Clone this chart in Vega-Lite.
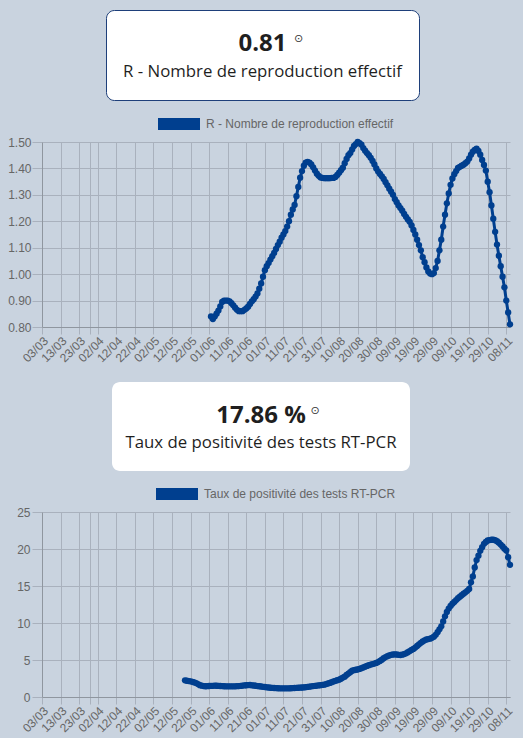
{
  "$schema": "https://vega.github.io/schema/vega-lite/v6.json",
  "background": "#c9d3df",
  "padding": {"left": 7, "top": 9, "right": 7, "bottom": 3},
  "spacing": 17,
  "config": {
    "font": "Liberation Sans",
    "view": {"stroke": null},
    "axis": {
      "labelFont": "Liberation Sans",
      "labelFontSize": 12,
      "labelColor": "#666666",
      "gridColor": "#a9b1bd",
      "tickColor": "#a9b1bd",
      "domainColor": "#8f969f"
    },
    "legend": {"layout": {"top": {"anchor": "middle"}}}
  },
  "resolve": {"scale": {"color": "independent"}, "legend": {"color": "independent"}},
  "datasets": {
    "r": [
      {"date": "2020-06-02", "valeur": 0.84}, {"date": "2020-06-03", "valeur": 0.83}, {"date": "2020-06-04", "valeur": 0.84},
      {"date": "2020-06-05", "valeur": 0.85}, {"date": "2020-06-06", "valeur": 0.862}, {"date": "2020-06-07", "valeur": 0.878},
      {"date": "2020-06-08", "valeur": 0.895}, {"date": "2020-06-09", "valeur": 0.9}, {"date": "2020-06-10", "valeur": 0.9},
      {"date": "2020-06-11", "valeur": 0.9}, {"date": "2020-06-12", "valeur": 0.897}, {"date": "2020-06-13", "valeur": 0.89},
      {"date": "2020-06-14", "valeur": 0.882}, {"date": "2020-06-15", "valeur": 0.873}, {"date": "2020-06-16", "valeur": 0.865},
      {"date": "2020-06-17", "valeur": 0.86}, {"date": "2020-06-18", "valeur": 0.86}, {"date": "2020-06-19", "valeur": 0.86},
      {"date": "2020-06-20", "valeur": 0.865}, {"date": "2020-06-21", "valeur": 0.87}, {"date": "2020-06-22", "valeur": 0.877},
      {"date": "2020-06-23", "valeur": 0.887}, {"date": "2020-06-24", "valeur": 0.897}, {"date": "2020-06-25", "valeur": 0.905},
      {"date": "2020-06-26", "valeur": 0.915}, {"date": "2020-06-27", "valeur": 0.927}, {"date": "2020-06-28", "valeur": 0.945},
      {"date": "2020-06-29", "valeur": 0.965}, {"date": "2020-06-30", "valeur": 0.99}, {"date": "2020-07-01", "valeur": 1.015},
      {"date": "2020-07-02", "valeur": 1.03}, {"date": "2020-07-03", "valeur": 1.042}, {"date": "2020-07-04", "valeur": 1.055},
      {"date": "2020-07-05", "valeur": 1.068}, {"date": "2020-07-06", "valeur": 1.08}, {"date": "2020-07-07", "valeur": 1.095},
      {"date": "2020-07-08", "valeur": 1.11}, {"date": "2020-07-09", "valeur": 1.123}, {"date": "2020-07-10", "valeur": 1.138},
      {"date": "2020-07-11", "valeur": 1.15}, {"date": "2020-07-12", "valeur": 1.163}, {"date": "2020-07-13", "valeur": 1.18},
      {"date": "2020-07-14", "valeur": 1.2}, {"date": "2020-07-15", "valeur": 1.225}, {"date": "2020-07-16", "valeur": 1.245},
      {"date": "2020-07-17", "valeur": 1.262}, {"date": "2020-07-18", "valeur": 1.295}, {"date": "2020-07-19", "valeur": 1.33},
      {"date": "2020-07-20", "valeur": 1.365}, {"date": "2020-07-21", "valeur": 1.39}, {"date": "2020-07-22", "valeur": 1.41},
      {"date": "2020-07-23", "valeur": 1.422}, {"date": "2020-07-24", "valeur": 1.425}, {"date": "2020-07-25", "valeur": 1.422},
      {"date": "2020-07-26", "valeur": 1.415}, {"date": "2020-07-27", "valeur": 1.404}, {"date": "2020-07-28", "valeur": 1.392},
      {"date": "2020-07-29", "valeur": 1.38}, {"date": "2020-07-30", "valeur": 1.372}, {"date": "2020-07-31", "valeur": 1.366},
      {"date": "2020-08-01", "valeur": 1.364}, {"date": "2020-08-02", "valeur": 1.363}, {"date": "2020-08-03", "valeur": 1.363},
      {"date": "2020-08-04", "valeur": 1.363}, {"date": "2020-08-05", "valeur": 1.363}, {"date": "2020-08-06", "valeur": 1.364},
      {"date": "2020-08-07", "valeur": 1.364}, {"date": "2020-08-08", "valeur": 1.368}, {"date": "2020-08-09", "valeur": 1.375},
      {"date": "2020-08-10", "valeur": 1.384}, {"date": "2020-08-11", "valeur": 1.393}, {"date": "2020-08-12", "valeur": 1.403},
      {"date": "2020-08-13", "valeur": 1.42}, {"date": "2020-08-14", "valeur": 1.436}, {"date": "2020-08-15", "valeur": 1.45},
      {"date": "2020-08-16", "valeur": 1.458}, {"date": "2020-08-17", "valeur": 1.472}, {"date": "2020-08-18", "valeur": 1.485},
      {"date": "2020-08-19", "valeur": 1.492}, {"date": "2020-08-20", "valeur": 1.5}, {"date": "2020-08-21", "valeur": 1.496},
      {"date": "2020-08-22", "valeur": 1.49}, {"date": "2020-08-23", "valeur": 1.477}, {"date": "2020-08-24", "valeur": 1.467},
      {"date": "2020-08-25", "valeur": 1.458}, {"date": "2020-08-26", "valeur": 1.45}, {"date": "2020-08-27", "valeur": 1.44},
      {"date": "2020-08-28", "valeur": 1.428}, {"date": "2020-08-29", "valeur": 1.415}, {"date": "2020-08-30", "valeur": 1.4},
      {"date": "2020-08-31", "valeur": 1.388}, {"date": "2020-09-01", "valeur": 1.379}, {"date": "2020-09-02", "valeur": 1.37},
      {"date": "2020-09-03", "valeur": 1.36}, {"date": "2020-09-04", "valeur": 1.348}, {"date": "2020-09-05", "valeur": 1.336},
      {"date": "2020-09-06", "valeur": 1.323}, {"date": "2020-09-07", "valeur": 1.312}, {"date": "2020-09-08", "valeur": 1.3},
      {"date": "2020-09-09", "valeur": 1.284}, {"date": "2020-09-10", "valeur": 1.272}, {"date": "2020-09-11", "valeur": 1.26},
      {"date": "2020-09-12", "valeur": 1.25}, {"date": "2020-09-13", "valeur": 1.24}, {"date": "2020-09-14", "valeur": 1.228},
      {"date": "2020-09-15", "valeur": 1.217}, {"date": "2020-09-16", "valeur": 1.207}, {"date": "2020-09-17", "valeur": 1.198},
      {"date": "2020-09-18", "valeur": 1.184}, {"date": "2020-09-19", "valeur": 1.167}, {"date": "2020-09-20", "valeur": 1.15},
      {"date": "2020-09-21", "valeur": 1.13}, {"date": "2020-09-22", "valeur": 1.11}, {"date": "2020-09-23", "valeur": 1.09},
      {"date": "2020-09-24", "valeur": 1.064}, {"date": "2020-09-25", "valeur": 1.045}, {"date": "2020-09-26", "valeur": 1.025},
      {"date": "2020-09-27", "valeur": 1.01}, {"date": "2020-09-28", "valeur": 1.002}, {"date": "2020-09-29", "valeur": 1.0},
      {"date": "2020-09-30", "valeur": 1.004}, {"date": "2020-10-01", "valeur": 1.023}, {"date": "2020-10-02", "valeur": 1.05},
      {"date": "2020-10-03", "valeur": 1.09}, {"date": "2020-10-04", "valeur": 1.13}, {"date": "2020-10-05", "valeur": 1.18},
      {"date": "2020-10-06", "valeur": 1.225}, {"date": "2020-10-07", "valeur": 1.268}, {"date": "2020-10-08", "valeur": 1.305},
      {"date": "2020-10-09", "valeur": 1.338}, {"date": "2020-10-10", "valeur": 1.362}, {"date": "2020-10-11", "valeur": 1.378},
      {"date": "2020-10-12", "valeur": 1.39}, {"date": "2020-10-13", "valeur": 1.402}, {"date": "2020-10-14", "valeur": 1.406},
      {"date": "2020-10-15", "valeur": 1.41}, {"date": "2020-10-16", "valeur": 1.414}, {"date": "2020-10-17", "valeur": 1.42},
      {"date": "2020-10-18", "valeur": 1.426}, {"date": "2020-10-19", "valeur": 1.438}, {"date": "2020-10-20", "valeur": 1.452},
      {"date": "2020-10-21", "valeur": 1.463}, {"date": "2020-10-22", "valeur": 1.47}, {"date": "2020-10-23", "valeur": 1.475},
      {"date": "2020-10-24", "valeur": 1.466}, {"date": "2020-10-25", "valeur": 1.452}, {"date": "2020-10-26", "valeur": 1.432},
      {"date": "2020-10-27", "valeur": 1.413}, {"date": "2020-10-28", "valeur": 1.392}, {"date": "2020-10-29", "valeur": 1.35},
      {"date": "2020-10-30", "valeur": 1.31}, {"date": "2020-10-31", "valeur": 1.26}, {"date": "2020-11-01", "valeur": 1.21},
      {"date": "2020-11-02", "valeur": 1.16}, {"date": "2020-11-03", "valeur": 1.112}, {"date": "2020-11-04", "valeur": 1.07},
      {"date": "2020-11-05", "valeur": 1.03}, {"date": "2020-11-06", "valeur": 0.99}, {"date": "2020-11-07", "valeur": 0.95},
      {"date": "2020-11-08", "valeur": 0.9}, {"date": "2020-11-09", "valeur": 0.855}, {"date": "2020-11-10", "valeur": 0.81}
    ],
    "tp": [
      {"date": "2020-05-19", "valeur": 2.25}, {"date": "2020-05-20", "valeur": 2.2}, {"date": "2020-05-21", "valeur": 2.15},
      {"date": "2020-05-22", "valeur": 2.12}, {"date": "2020-05-23", "valeur": 2.05}, {"date": "2020-05-24", "valeur": 1.97},
      {"date": "2020-05-25", "valeur": 1.88}, {"date": "2020-05-26", "valeur": 1.74}, {"date": "2020-05-27", "valeur": 1.6},
      {"date": "2020-05-28", "valeur": 1.53}, {"date": "2020-05-29", "valeur": 1.48}, {"date": "2020-05-30", "valeur": 1.45},
      {"date": "2020-05-31", "valeur": 1.46}, {"date": "2020-06-01", "valeur": 1.49}, {"date": "2020-06-02", "valeur": 1.5},
      {"date": "2020-06-03", "valeur": 1.51}, {"date": "2020-06-04", "valeur": 1.53}, {"date": "2020-06-05", "valeur": 1.52},
      {"date": "2020-06-06", "valeur": 1.5}, {"date": "2020-06-07", "valeur": 1.49}, {"date": "2020-06-08", "valeur": 1.47},
      {"date": "2020-06-09", "valeur": 1.45}, {"date": "2020-06-10", "valeur": 1.44}, {"date": "2020-06-11", "valeur": 1.44},
      {"date": "2020-06-12", "valeur": 1.44}, {"date": "2020-06-13", "valeur": 1.44}, {"date": "2020-06-14", "valeur": 1.44},
      {"date": "2020-06-15", "valeur": 1.44}, {"date": "2020-06-16", "valeur": 1.46}, {"date": "2020-06-17", "valeur": 1.48},
      {"date": "2020-06-18", "valeur": 1.5}, {"date": "2020-06-19", "valeur": 1.54}, {"date": "2020-06-20", "valeur": 1.57},
      {"date": "2020-06-21", "valeur": 1.59}, {"date": "2020-06-22", "valeur": 1.61}, {"date": "2020-06-23", "valeur": 1.62},
      {"date": "2020-06-24", "valeur": 1.58}, {"date": "2020-06-25", "valeur": 1.55}, {"date": "2020-06-26", "valeur": 1.52},
      {"date": "2020-06-27", "valeur": 1.48}, {"date": "2020-06-28", "valeur": 1.45}, {"date": "2020-06-29", "valeur": 1.42},
      {"date": "2020-06-30", "valeur": 1.38}, {"date": "2020-07-01", "valeur": 1.35}, {"date": "2020-07-02", "valeur": 1.31},
      {"date": "2020-07-03", "valeur": 1.28}, {"date": "2020-07-04", "valeur": 1.25}, {"date": "2020-07-05", "valeur": 1.23},
      {"date": "2020-07-06", "valeur": 1.22}, {"date": "2020-07-07", "valeur": 1.2}, {"date": "2020-07-08", "valeur": 1.18},
      {"date": "2020-07-09", "valeur": 1.17}, {"date": "2020-07-10", "valeur": 1.17}, {"date": "2020-07-11", "valeur": 1.17},
      {"date": "2020-07-12", "valeur": 1.17}, {"date": "2020-07-13", "valeur": 1.17}, {"date": "2020-07-14", "valeur": 1.17},
      {"date": "2020-07-15", "valeur": 1.18}, {"date": "2020-07-16", "valeur": 1.2}, {"date": "2020-07-17", "valeur": 1.22},
      {"date": "2020-07-18", "valeur": 1.24}, {"date": "2020-07-19", "valeur": 1.25}, {"date": "2020-07-20", "valeur": 1.26},
      {"date": "2020-07-21", "valeur": 1.28}, {"date": "2020-07-22", "valeur": 1.3}, {"date": "2020-07-23", "valeur": 1.33},
      {"date": "2020-07-24", "valeur": 1.36}, {"date": "2020-07-25", "valeur": 1.4}, {"date": "2020-07-26", "valeur": 1.44},
      {"date": "2020-07-27", "valeur": 1.47}, {"date": "2020-07-28", "valeur": 1.5}, {"date": "2020-07-29", "valeur": 1.54},
      {"date": "2020-07-30", "valeur": 1.57}, {"date": "2020-07-31", "valeur": 1.6}, {"date": "2020-08-01", "valeur": 1.63},
      {"date": "2020-08-02", "valeur": 1.67}, {"date": "2020-08-03", "valeur": 1.75}, {"date": "2020-08-04", "valeur": 1.82},
      {"date": "2020-08-05", "valeur": 1.9}, {"date": "2020-08-06", "valeur": 2.0}, {"date": "2020-08-07", "valeur": 2.1},
      {"date": "2020-08-08", "valeur": 2.18}, {"date": "2020-08-09", "valeur": 2.26}, {"date": "2020-08-10", "valeur": 2.34},
      {"date": "2020-08-11", "valeur": 2.47}, {"date": "2020-08-12", "valeur": 2.62}, {"date": "2020-08-13", "valeur": 2.75},
      {"date": "2020-08-14", "valeur": 2.97}, {"date": "2020-08-15", "valeur": 3.17}, {"date": "2020-08-16", "valeur": 3.35},
      {"date": "2020-08-17", "valeur": 3.55}, {"date": "2020-08-18", "valeur": 3.63}, {"date": "2020-08-19", "valeur": 3.68},
      {"date": "2020-08-20", "valeur": 3.72}, {"date": "2020-08-21", "valeur": 3.8}, {"date": "2020-08-22", "valeur": 3.9},
      {"date": "2020-08-23", "valeur": 4.0}, {"date": "2020-08-24", "valeur": 4.1}, {"date": "2020-08-25", "valeur": 4.2},
      {"date": "2020-08-26", "valeur": 4.3}, {"date": "2020-08-27", "valeur": 4.38}, {"date": "2020-08-28", "valeur": 4.45},
      {"date": "2020-08-29", "valeur": 4.52}, {"date": "2020-08-30", "valeur": 4.6}, {"date": "2020-08-31", "valeur": 4.72},
      {"date": "2020-09-01", "valeur": 4.88}, {"date": "2020-09-02", "valeur": 5.05}, {"date": "2020-09-03", "valeur": 5.25},
      {"date": "2020-09-04", "valeur": 5.4}, {"date": "2020-09-05", "valeur": 5.52}, {"date": "2020-09-06", "valeur": 5.62},
      {"date": "2020-09-07", "valeur": 5.7}, {"date": "2020-09-08", "valeur": 5.74}, {"date": "2020-09-09", "valeur": 5.76},
      {"date": "2020-09-10", "valeur": 5.74}, {"date": "2020-09-11", "valeur": 5.7}, {"date": "2020-09-12", "valeur": 5.68},
      {"date": "2020-09-13", "valeur": 5.72}, {"date": "2020-09-14", "valeur": 5.8}, {"date": "2020-09-15", "valeur": 5.9},
      {"date": "2020-09-16", "valeur": 6.05}, {"date": "2020-09-17", "valeur": 6.2}, {"date": "2020-09-18", "valeur": 6.35},
      {"date": "2020-09-19", "valeur": 6.5}, {"date": "2020-09-20", "valeur": 6.68}, {"date": "2020-09-21", "valeur": 6.9},
      {"date": "2020-09-22", "valeur": 7.12}, {"date": "2020-09-23", "valeur": 7.32}, {"date": "2020-09-24", "valeur": 7.5},
      {"date": "2020-09-25", "valeur": 7.66}, {"date": "2020-09-26", "valeur": 7.77}, {"date": "2020-09-27", "valeur": 7.83},
      {"date": "2020-09-28", "valeur": 7.88}, {"date": "2020-09-29", "valeur": 8.0}, {"date": "2020-09-30", "valeur": 8.15},
      {"date": "2020-10-01", "valeur": 8.4}, {"date": "2020-10-02", "valeur": 8.75}, {"date": "2020-10-03", "valeur": 9.15},
      {"date": "2020-10-04", "valeur": 9.55}, {"date": "2020-10-05", "valeur": 10.2}, {"date": "2020-10-06", "valeur": 10.9},
      {"date": "2020-10-07", "valeur": 11.5}, {"date": "2020-10-08", "valeur": 11.95}, {"date": "2020-10-09", "valeur": 12.3},
      {"date": "2020-10-10", "valeur": 12.6}, {"date": "2020-10-11", "valeur": 12.85}, {"date": "2020-10-12", "valeur": 13.1},
      {"date": "2020-10-13", "valeur": 13.35}, {"date": "2020-10-14", "valeur": 13.55}, {"date": "2020-10-15", "valeur": 13.75},
      {"date": "2020-10-16", "valeur": 13.95}, {"date": "2020-10-17", "valeur": 14.15}, {"date": "2020-10-18", "valeur": 14.35},
      {"date": "2020-10-19", "valeur": 14.6}, {"date": "2020-10-20", "valeur": 15.5}, {"date": "2020-10-21", "valeur": 16.3},
      {"date": "2020-10-22", "valeur": 17.5}, {"date": "2020-10-23", "valeur": 18.5}, {"date": "2020-10-24", "valeur": 19.1},
      {"date": "2020-10-25", "valeur": 19.75}, {"date": "2020-10-26", "valeur": 20.25}, {"date": "2020-10-27", "valeur": 20.7},
      {"date": "2020-10-28", "valeur": 20.95}, {"date": "2020-10-29", "valeur": 21.15}, {"date": "2020-10-30", "valeur": 21.2},
      {"date": "2020-10-31", "valeur": 21.25}, {"date": "2020-11-01", "valeur": 21.25}, {"date": "2020-11-02", "valeur": 21.18},
      {"date": "2020-11-03", "valeur": 21.05}, {"date": "2020-11-04", "valeur": 20.85}, {"date": "2020-11-05", "valeur": 20.6},
      {"date": "2020-11-06", "valeur": 20.35}, {"date": "2020-11-07", "valeur": 20.05}, {"date": "2020-11-08", "valeur": 19.8},
      {"date": "2020-11-09", "valeur": 18.9}, {"date": "2020-11-10", "valeur": 17.86}
    ]
  },
  "vconcat": [
    {
      "spacing": 2,
      "resolve": {"scale": {"color": "independent"}, "legend": {"color": "independent"}},
      "vconcat": [
        {
          "spacing": 0,
          "hconcat": [
            {
              "width": 63,
              "height": 90,
              "data": {"values": [{"vide": ""}]},
              "mark": {"type": "text"},
              "encoding": {"text": {"field": "vide"}}
            },
            {
              "width": 313,
              "height": 90,
              "view": {"fill": "white", "stroke": "#1e3f7a", "strokeWidth": 1, "cornerRadius": 8},
              "data": {"values": [
                {"ligne": "valeur", "texte": "0.81"},
                {"ligne": "titre", "texte": "R - Nombre de reproduction effectif"}
              ]},
              "encoding": {
                "y": {"field": "ligne", "type": "nominal", "axis": null,
                      "scale": {"type": "band", "domain": ["valeur", "titre"], "paddingInner": 0.5, "paddingOuter": 0.857, "align": 0.5625}},
                "text": {"field": "texte"}
              },
              "layer": [
                {"transform": [{"filter": "datum.ligne == 'valeur'"}],
                 "mark": {"type": "text", "font": "Open Sans", "fontSize": 24, "fontWeight": "bold", "color": "#1f1f1f"}},
                {"transform": [{"filter": "datum.ligne == 'titre'"}],
                 "mark": {"type": "text", "font": "Open Sans", "fontSize": 16.8, "color": "#1f1f1f"}},
                {"transform": [{"filter": "datum.ligne == 'valeur'"}],
                 "mark": {"type": "text", "font": "DejaVu Sans", "fontSize": 11, "color": "#333333", "dx": 36, "dy": -5},
                 "encoding": {"text": {"value": "⊙"}}}
              ]
            }
          ]
        },
        {
          "width": 468,
          "height": 185,
          "layer": [
            {
              "data": {"values": [{"seuil": 1.5}]},
              "mark": {"type": "rule", "color": "#e0294f", "strokeWidth": 1.5},
              "encoding": {"y": {"field": "seuil", "type": "quantitative"}}
            },
            {
              "data": {"values": [{"seuil": 1.0}]},
              "mark": {"type": "rule", "color": "#22c05a", "strokeWidth": 2.5},
              "encoding": {"y": {"field": "seuil", "type": "quantitative"}}
            },
            {
              "data": {"name": "r"},
              "mark": {"type": "line", "color": "#003f8f", "strokeWidth": 3},
              "encoding": {
                "x": {"field": "date", "type": "temporal"},
                "y": {"field": "valeur", "type": "quantitative"}
              }
            },
            {
              "data": {"name": "r"},
              "mark": {"type": "point", "filled": true, "size": 40, "opacity": 1, "shape": "circle"},
              "encoding": {
                "x": {"field": "date", "type": "temporal"},
                "y": {"field": "valeur", "type": "quantitative"},
                "color": {
                  "datum": "R - Nombre de reproduction effectif",
                  "type": "nominal",
                  "scale": {"range": ["#003f8f"]},
                  "legend": {
                    "orient": "top", "title": null, "offset": 12,
                    "symbolType": "M-1,-0.2857H1V0.2857H-1Z", "symbolSize": 1764, "symbolStrokeWidth": 0,
                    "labelFont": "Liberation Sans", "labelFontSize": 12, "labelColor": "#666666", "labelOffset": 6, "labelLimit": 0
                  }
                }
              }
            }
          ],
          "encoding": {
            "x": {
              "field": "date", "type": "temporal", "title": null,
              "scale": {"type": "utc", "domain": [{"year": 2020, "month": 3, "date": 3, "utc": true}, {"year": 2020, "month": 11, "date": 10, "utc": true}]},
              "axis": {
                "values": [
                  {"year": 2020, "month": 3, "date": 3, "utc": true}, {"year": 2020, "month": 3, "date": 13, "utc": true},
                  {"year": 2020, "month": 3, "date": 23, "utc": true}, {"year": 2020, "month": 3, "date": 29, "utc": true},
                  {"year": 2020, "month": 4, "date": 2, "utc": true}, {"year": 2020, "month": 4, "date": 12, "utc": true},
                  {"year": 2020, "month": 4, "date": 22, "utc": true}, {"year": 2020, "month": 5, "date": 2, "utc": true},
                  {"year": 2020, "month": 5, "date": 12, "utc": true}, {"year": 2020, "month": 5, "date": 22, "utc": true},
                  {"year": 2020, "month": 6, "date": 1, "utc": true}, {"year": 2020, "month": 6, "date": 11, "utc": true},
                  {"year": 2020, "month": 6, "date": 21, "utc": true}, {"year": 2020, "month": 7, "date": 1, "utc": true},
                  {"year": 2020, "month": 7, "date": 11, "utc": true}, {"year": 2020, "month": 7, "date": 21, "utc": true},
                  {"year": 2020, "month": 7, "date": 31, "utc": true}, {"year": 2020, "month": 8, "date": 10, "utc": true},
                  {"year": 2020, "month": 8, "date": 20, "utc": true}, {"year": 2020, "month": 8, "date": 30, "utc": true},
                  {"year": 2020, "month": 9, "date": 9, "utc": true}, {"year": 2020, "month": 9, "date": 19, "utc": true},
                  {"year": 2020, "month": 9, "date": 29, "utc": true}, {"year": 2020, "month": 10, "date": 9, "utc": true},
                  {"year": 2020, "month": 10, "date": 19, "utc": true}, {"year": 2020, "month": 10, "date": 29, "utc": true},
                  {"year": 2020, "month": 11, "date": 8, "utc": true}
                ],
                "labelExpr": "utcFormat(datum.value, '%d/%m') == '29/03' ? '' : utcFormat(datum.value, '%d/%m')",
                "labelAngle": -45, "labelAlign": "right", "labelBaseline": "top",
                "labelOverlap": false, "labelFlush": false,
                "tickSize": 7, "labelPadding": 1, "grid": true, "domain": true
              }
            },
            "y": {
              "type": "quantitative", "title": null,
              "scale": {"domain": [0.8, 1.5], "nice": false, "zero": false},
              "axis": {
                "values": [0.8, 0.9, 1.0, 1.1, 1.2, 1.3, 1.4, 1.5],
                "format": ".2f", "tickSize": 10, "labelPadding": 1, "grid": true, "domain": true
              }
            }
          }
        }
      ]
    },
    {
      "spacing": 2,
      "resolve": {"scale": {"color": "independent"}, "legend": {"color": "independent"}},
      "vconcat": [
        {
          "spacing": 0,
          "hconcat": [
            {
              "width": 70,
              "height": 89,
              "data": {"values": [{"vide": ""}]},
              "mark": {"type": "text"},
              "encoding": {"text": {"field": "vide"}}
            },
            {
              "width": 298,
              "height": 89,
              "view": {"fill": "white", "stroke": null, "cornerRadius": 8},
              "data": {"values": [
                {"ligne": "valeur", "texte": "17.86 %"},
                {"ligne": "titre", "texte": "Taux de positivité des tests RT-PCR"}
              ]},
              "encoding": {
                "y": {"field": "ligne", "type": "nominal", "axis": null,
                      "scale": {"type": "band", "domain": ["valeur", "titre"], "paddingInner": 0.5, "paddingOuter": 0.857, "align": 0.5625}},
                "text": {"field": "texte"}
              },
              "layer": [
                {"transform": [{"filter": "datum.ligne == 'valeur'"}],
                 "mark": {"type": "text", "font": "Open Sans", "fontSize": 24, "fontWeight": "bold", "color": "#1f1f1f"}},
                {"transform": [{"filter": "datum.ligne == 'titre'"}],
                 "mark": {"type": "text", "font": "Open Sans", "fontSize": 16.8, "color": "#1f1f1f"}},
                {"transform": [{"filter": "datum.ligne == 'valeur'"}],
                 "mark": {"type": "text", "font": "DejaVu Sans", "fontSize": 11, "color": "#333333", "dx": 54, "dy": -5},
                 "encoding": {"text": {"value": "⊙"}}}
              ]
            }
          ]
        },
        {
          "width": 468,
          "height": 185,
          "layer": [
            {
              "data": {"values": [{"seuil": 10}]},
              "mark": {"type": "rule", "color": "#e0294f", "strokeWidth": 2},
              "encoding": {"y": {"field": "seuil", "type": "quantitative"}}
            },
            {
              "data": {"values": [{"seuil": 5}]},
              "mark": {"type": "rule", "color": "#22c05a", "strokeWidth": 2},
              "encoding": {"y": {"field": "seuil", "type": "quantitative"}}
            },
            {
              "data": {"name": "tp"},
              "mark": {"type": "line", "color": "#003f8f", "strokeWidth": 3},
              "encoding": {
                "x": {"field": "date", "type": "temporal"},
                "y": {"field": "valeur", "type": "quantitative"}
              }
            },
            {
              "data": {"name": "tp"},
              "mark": {"type": "point", "filled": true, "size": 40, "opacity": 1, "shape": "circle"},
              "encoding": {
                "x": {"field": "date", "type": "temporal"},
                "y": {"field": "valeur", "type": "quantitative"},
                "color": {
                  "datum": "Taux de positivité des tests RT-PCR",
                  "type": "nominal",
                  "scale": {"range": ["#003f8f"]},
                  "legend": {
                    "orient": "top", "title": null, "offset": 12,
                    "symbolType": "M-1,-0.2857H1V0.2857H-1Z", "symbolSize": 1764, "symbolStrokeWidth": 0,
                    "labelFont": "Liberation Sans", "labelFontSize": 12, "labelColor": "#666666", "labelOffset": 6, "labelLimit": 0
                  }
                }
              }
            }
          ],
          "encoding": {
            "x": {
              "field": "date", "type": "temporal", "title": null,
              "scale": {"type": "utc", "domain": [{"year": 2020, "month": 3, "date": 3, "utc": true}, {"year": 2020, "month": 11, "date": 10, "utc": true}]},
              "axis": {
                "values": [
                  {"year": 2020, "month": 3, "date": 3, "utc": true}, {"year": 2020, "month": 3, "date": 13, "utc": true},
                  {"year": 2020, "month": 3, "date": 23, "utc": true}, {"year": 2020, "month": 3, "date": 29, "utc": true},
                  {"year": 2020, "month": 4, "date": 2, "utc": true}, {"year": 2020, "month": 4, "date": 12, "utc": true},
                  {"year": 2020, "month": 4, "date": 22, "utc": true}, {"year": 2020, "month": 5, "date": 2, "utc": true},
                  {"year": 2020, "month": 5, "date": 12, "utc": true}, {"year": 2020, "month": 5, "date": 22, "utc": true},
                  {"year": 2020, "month": 6, "date": 1, "utc": true}, {"year": 2020, "month": 6, "date": 11, "utc": true},
                  {"year": 2020, "month": 6, "date": 21, "utc": true}, {"year": 2020, "month": 7, "date": 1, "utc": true},
                  {"year": 2020, "month": 7, "date": 11, "utc": true}, {"year": 2020, "month": 7, "date": 21, "utc": true},
                  {"year": 2020, "month": 7, "date": 31, "utc": true}, {"year": 2020, "month": 8, "date": 10, "utc": true},
                  {"year": 2020, "month": 8, "date": 20, "utc": true}, {"year": 2020, "month": 8, "date": 30, "utc": true},
                  {"year": 2020, "month": 9, "date": 9, "utc": true}, {"year": 2020, "month": 9, "date": 19, "utc": true},
                  {"year": 2020, "month": 9, "date": 29, "utc": true}, {"year": 2020, "month": 10, "date": 9, "utc": true},
                  {"year": 2020, "month": 10, "date": 19, "utc": true}, {"year": 2020, "month": 10, "date": 29, "utc": true},
                  {"year": 2020, "month": 11, "date": 8, "utc": true}
                ],
                "labelExpr": "utcFormat(datum.value, '%d/%m') == '29/03' ? '' : utcFormat(datum.value, '%d/%m')",
                "labelAngle": -45, "labelAlign": "right", "labelBaseline": "top",
                "labelOverlap": false, "labelFlush": false,
                "tickSize": 7, "labelPadding": 1, "grid": true, "domain": true
              }
            },
            "y": {
              "type": "quantitative", "title": null,
              "scale": {"domain": [0, 25], "nice": false},
              "axis": {
                "values": [0, 5, 10, 15, 20, 25],
                "format": "d", "tickSize": 10, "labelPadding": 2, "grid": true, "domain": true
              }
            }
          }
        }
      ]
    }
  ]
}
